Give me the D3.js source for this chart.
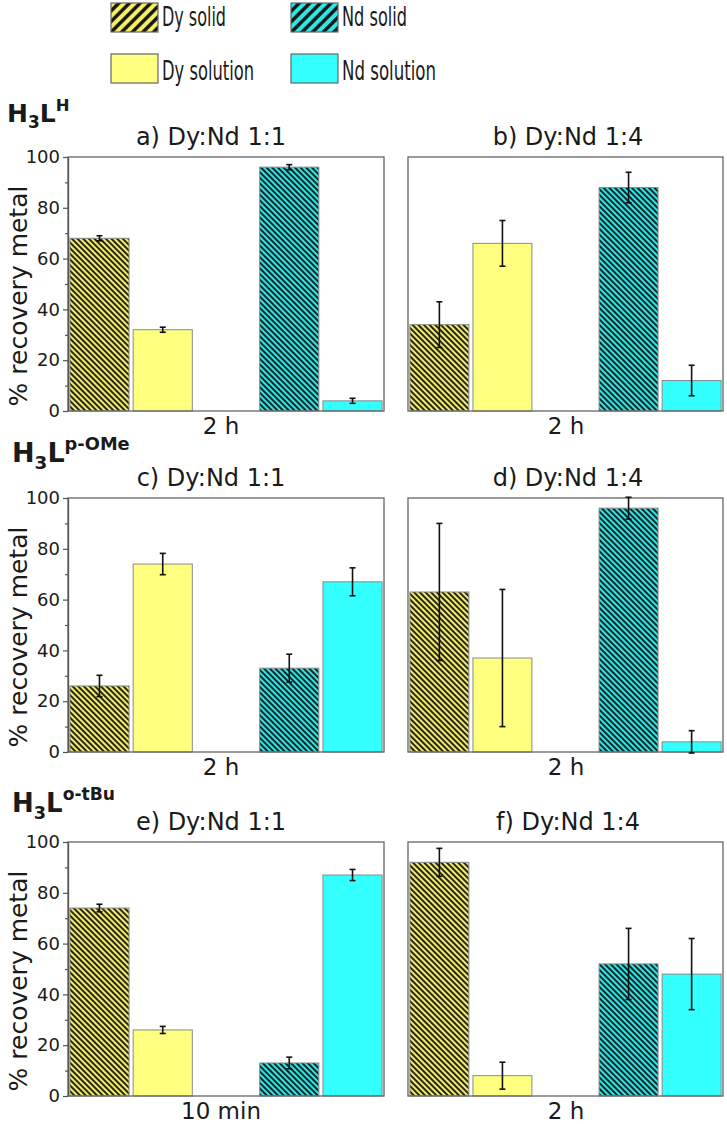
<!DOCTYPE html>
<html>
<head>
<meta charset="utf-8">
<script src="https://cdn.jsdelivr.net/npm/d3@7"></script>
<style>
  body { margin: 0; background: #fff; }
  text { font-family: "DejaVu Sans", sans-serif; fill: #1a1a1a; }
</style>
</head>
<body>
<div id="chart"></div>
<script>
// ---- data ----
var series = ['Dy solid', 'Dy solution', 'Nd solid', 'Nd solution'];
var slots = ['Dy solid', 'Dy solution', 'gap', 'Nd solid', 'Nd solution'];
var panelTitles = ['a) Dy:Nd 1:1', 'b) Dy:Nd 1:4', 'c) Dy:Nd 1:1', 'd) Dy:Nd 1:4', 'e) Dy:Nd 1:1', 'f) Dy:Nd 1:4'];
var timeLabels = ['2 h', '2 h', '2 h', '2 h', '10 min', '2 h'];
var ligandSup = ['H', 'p-OMe', 'o-tBu'];
var yTicks = [0, 20, 40, 60, 80, 100];
var yMinorTicks = [10, 30, 50, 70, 90];

var valuesA = [68, 32, 96, 4],  errA = [1, 1, 1, 1];
var valuesB = [34, 66, 88, 12], errB = [9, 9, 6, 6];
var valuesC = [26, 74, 33, 67], errC = [4.2, 4.2, 5.5, 5.5];
var valuesD = [63, 37, 96, 4],  errD = [27, 27, 4.3, 4.4];
var valuesE = [74, 26, 13, 87], errE = [1.5, 1.4, 2.3, 2.2];
var valuesF = [92, 8, 52, 48],  errF = [5.5, 5.3, 14, 14];

var panelValues = [valuesA, valuesB, valuesC, valuesD, valuesE, valuesF];
var panelErrors = [errA, errB, errC, errD, errE, errF];

// ---- layout ----
var svgWidth = 727, svgHeight = 1124;
var colX = [{x0: 68, x1: 384}, {x0: 408, x1: 723}];
var rowTop = [157, 498, 842];
var plotH = 254;
var titleX = [211, 568];
var timeX = [221, 566];
var ligandY = [122, 462, 812];
var ligandX = [7, 12, 12];
var ligandSize = [25, 27, 26];

var fills = {
    'Dy solid': 'url(#hatchDy)',
    'Dy solution': '#ffff80',
    'Nd solid': 'url(#hatchNd)',
    'Nd solution': '#33ffff'
};
var legendFills = {
    'Dy solid': 'url(#legDy)',
    'Dy solution': '#ffff80',
    'Nd solid': 'url(#legNd)',
    'Nd solution': '#33ffff'
};

var svg = d3.select('#chart')
    .append('svg')
    .attr('width', svgWidth)
    .attr('height', svgHeight);

// hatch patterns
var defs = svg.append('defs');
function hatch(id, bg, size, lw, angle) {
    var p = defs.append('pattern')
        .attr('id', id)
        .attr('patternUnits', 'userSpaceOnUse')
        .attr('width', size)
        .attr('height', size)
        .attr('patternTransform', 'rotate(' + angle + ')');
    p.append('rect').attr('width', size).attr('height', size).attr('fill', bg);
    p.append('line')
        .attr('x1', size / 2).attr('y1', -1)
        .attr('x2', size / 2).attr('y2', size + 1)
        .attr('stroke', '#111')
        .attr('stroke-width', lw);
}
hatch('hatchDy', '#f2ec6a', 4, 1.8, -45);
hatch('hatchNd', '#2ee6e6', 4, 1.8, -45);
hatch('legDy', '#f5ef66', 7.5, 3.4, 45);
hatch('legNd', '#2ee8e8', 7.5, 3.4, 45);

// legend
var legendPos = [
    {x: 111, y: 3, tx: 162, ty: 26, len: 64},
    {x: 111, y: 54, tx: 162, ty: 80, len: 92},
    {x: 291, y: 3, tx: 342, ty: 26, len: 65},
    {x: 291, y: 54, tx: 342, ty: 80, len: 94}
];
series.forEach(function(s, i) {
    var p = legendPos[i];
    svg.append('rect')
        .attr('x', p.x).attr('y', p.y)
        .attr('width', 47).attr('height', 29)
        .attr('fill', legendFills[s])
        .attr('stroke', '#666')
        .attr('stroke-width', 1.2);
    svg.append('text')
        .attr('x', p.tx).attr('y', p.ty)
        .attr('font-size', 26)
        .attr('textLength', p.len)
        .attr('lengthAdjust', 'spacingAndGlyphs')
        .text(s);
});

// ligand headings
ligandSup.forEach(function(sup, r) {
    var fs = ligandSize[r];
    var t = svg.append('text')
        .attr('x', ligandX[r])
        .attr('y', ligandY[r])
        .attr('font-size', fs)
        .attr('font-weight', 'bold');
    t.append('tspan').text('H');
    t.append('tspan').attr('dy', fs * 0.25).attr('font-size', fs * 0.68).text('3');
    t.append('tspan').attr('dy', -fs * 0.25).text('L');
    t.append('tspan').attr('dy', -fs * 0.45).attr('font-size', fs * 0.66).text(sup);
});

// panels
panelTitles.forEach(function(title, i) {
    var r = Math.floor(i / 2), c = i % 2;
    var top = rowTop[r], bottom = top + plotH;
    var x0 = colX[c].x0, x1 = colX[c].x1;

    var x = d3.scaleBand()
        .domain(slots)
        .range([x0, x1])
        .paddingInner(0.065)
        .paddingOuter(0.03);
    var y = d3.scaleLinear()
        .domain([0, 100])
        .range([bottom, top]);

    var g = svg.append('g');
    var data = series.map(function(s, k) {
        return {name: s, value: panelValues[i][k], err: panelErrors[i][k]};
    });

    g.selectAll('rect.bar')
        .data(data)
        .enter()
        .append('rect')
        .attr('class', 'bar')
        .attr('x', d => x(d.name))
        .attr('y', d => y(d.value))
        .attr('width', x.bandwidth())
        .attr('height', d => y(0) - y(d.value))
        .attr('fill', d => fills[d.name])
        .attr('stroke', '#8a8a8a')
        .attr('stroke-width', 1);

    // frame
    g.append('rect')
        .attr('x', x0).attr('y', top)
        .attr('width', x1 - x0).attr('height', plotH)
        .attr('fill', 'none')
        .attr('stroke', '#666')
        .attr('stroke-width', 1.3);

    // error bars
    var eb = g.selectAll('g.err')
        .data(data)
        .enter()
        .append('g')
        .attr('class', 'err')
        .attr('stroke', '#111')
        .attr('stroke-width', 1.6);
    eb.append('line')
        .attr('x1', d => x(d.name) + x.bandwidth() / 2)
        .attr('x2', d => x(d.name) + x.bandwidth() / 2)
        .attr('y1', d => y(d.value - d.err))
        .attr('y2', d => y(d.value + d.err));
    [-1, 1].forEach(function(sgn) {
        eb.append('line')
            .attr('x1', d => x(d.name) + x.bandwidth() / 2 - 3)
            .attr('x2', d => x(d.name) + x.bandwidth() / 2 + 3)
            .attr('y1', d => y(d.value + sgn * d.err))
            .attr('y2', d => y(d.value + sgn * d.err));
    });

    if (c === 0) {
        var leftAxis = d3.axisLeft(y)
            .tickValues(yTicks)
            .tickSize(5)
            .tickSizeOuter(0)
            .tickPadding(3);
        var ax = g.append('g')
            .attr('transform', `translate(${x0},0)`)
            .call(leftAxis);
        ax.select('.domain').attr('stroke', '#555').attr('stroke-width', 1.3);
        ax.selectAll('.tick line').attr('stroke', '#555').attr('stroke-width', 1.2);
        ax.selectAll('.tick text')
            .attr('font-family', '"DejaVu Sans", sans-serif')
            .attr('font-size', 18)
            .attr('fill', '#222');

        var minorAxis = d3.axisLeft(y)
            .tickValues(yMinorTicks)
            .tickSize(3)
            .tickSizeOuter(0)
            .tickFormat('');
        var mx = g.append('g')
            .attr('transform', `translate(${x0},0)`)
            .call(minorAxis);
        mx.select('.domain').remove();
        mx.selectAll('.tick line').attr('stroke', '#555').attr('stroke-width', 1.2);

        g.append('text')
            .attr('transform', `translate(27, ${(top + bottom) / 2 + 12}) rotate(-90)`)
            .attr('text-anchor', 'middle')
            .attr('font-size', 25)
            .text('% recovery metal');
    }

    // panel title
    g.append('text')
        .attr('x', titleX[c])
        .attr('y', top - 12)
        .attr('text-anchor', 'middle')
        .attr('font-size', 24)
        .text(title);

    // time label
    g.append('text')
        .attr('x', timeX[c])
        .attr('y', bottom + 23)
        .attr('text-anchor', 'middle')
        .attr('font-size', 23)
        .text(timeLabels[i]);
});
</script>
</body>
</html>
